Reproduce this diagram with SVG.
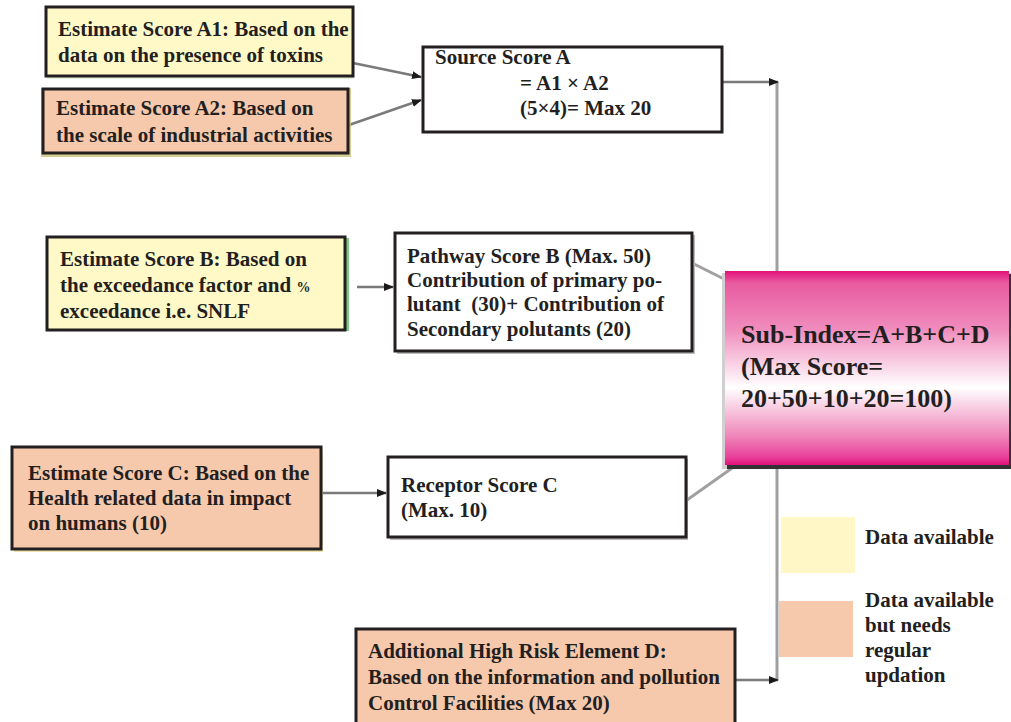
<svg xmlns="http://www.w3.org/2000/svg" width="1011" height="722" viewBox="0 0 1011 722">
<style>
  text { font-family: "Liberation Serif", "Times New Roman", serif; font-weight: bold; font-size: 21px; fill: #231f20; }
  .box { stroke: #231f20; stroke-width: 3; }
  .yellow { fill: #fff9c8; }
  .peach { fill: #f6c8ac; }
  .white { fill: #ffffff; }
  .conn { fill: none; stroke: #7a7a7a; stroke-width: 2.5; }
  .vline { fill: none; stroke: #a0a0a0; stroke-width: 3; }
  .big { font-size: 26px; }
  .leg { font-size: 21px; }
</style>
<defs>
  <marker id="arr" markerUnits="userSpaceOnUse" markerWidth="10" markerHeight="10" refX="9" refY="5" orient="auto">
    <path d="M0,1 L10,5 L0,9 z" fill="#1a1a1a"/>
  </marker>
  <linearGradient id="pinkGrad" x1="0" y1="0" x2="0" y2="1">
    <stop offset="0" stop-color="#e4107c"/>
    <stop offset="0.06" stop-color="#e85a9f"/>
    <stop offset="0.3" stop-color="#f08cbd"/>
    <stop offset="0.6" stop-color="#ffffff"/>
    <stop offset="0.85" stop-color="#ef86b9"/>
    <stop offset="0.96" stop-color="#e8409a"/>
    <stop offset="1" stop-color="#e2107a"/>
  </linearGradient>
</defs>
<rect width="1011" height="722" fill="#ffffff"/>

<g id="connectors">
  <line class="vline" x1="777" y1="82" x2="777" y2="680"/>
  <line class="conn" x1="353" y1="63" x2="421" y2="77" marker-end="url(#arr)"/>
  <line class="conn" x1="349" y1="125" x2="421" y2="100" marker-end="url(#arr)"/>
  <line class="conn" x1="722" y1="82" x2="778" y2="82" marker-end="url(#arr)"/>
  <line class="conn" x1="357" y1="287" x2="393" y2="287" marker-end="url(#arr)"/>
  <line class="vline" x1="692" y1="263" x2="726" y2="280"/>
  <line class="conn" x1="322" y1="493" x2="386" y2="493" marker-end="url(#arr)"/>
  <line class="vline" x1="687" y1="500" x2="735" y2="466"/>
  <line class="conn" x1="736" y1="680" x2="778" y2="680" marker-end="url(#arr)"/>
</g>

<g id="nodeA1">
  <rect x="47" y="9" width="307" height="70" fill="#d8f0d0" opacity="0.8"/>
  <rect class="box yellow" x="46" y="7" width="307" height="69"/>
  <text x="58" y="36">Estimate Score A1: Based on the</text>
  <text x="58" y="62">data on the presence of toxins</text>
</g>

<g id="nodeA2">
  <rect x="41" y="88" width="310" height="69" fill="#c9c27a" opacity="0.8"/>
  <rect class="box peach" x="43" y="89" width="305" height="64"/>
  <text x="56" y="115">Estimate Score A2: Based on</text>
  <text x="56" y="142">the scale of industrial activities</text>
</g>

<g id="nodeSourceA">
  <rect class="box white" x="423" y="47" width="299" height="85"/>
  <text x="435" y="64">Source Score A</text>
  <text x="520" y="90">= A1 × A2</text>
  <text x="520" y="115">(5×4)= Max 20</text>
</g>

<g id="nodeB">
  <rect x="48" y="238" width="301" height="93" fill="#4caf50" opacity="0.7"/>
  <rect class="box yellow" x="47" y="237" width="298" height="93"/>
  <text x="60" y="266">Estimate Score B: Based on</text>
  <text x="60" y="292">the exceedance factor and <tspan font-size="14">%</tspan></text>
  <text x="60" y="318">exceedance i.e. SNLF</text>
</g>

<g id="nodePathwayB">
  <rect x="397" y="235" width="298" height="119" fill="#bbbbbb"/>
  <rect class="box white" x="395" y="233" width="297" height="118"/>
  <text x="407" y="263">Pathway Score B (Max. 50)</text>
  <text x="407" y="287">Contribution of primary po-</text>
  <text x="407" y="311" xml:space="preserve">lutant  (30)+ Contribution of</text>
  <text x="407" y="336">Secondary polutants (20)</text>
</g>

<g id="nodeSubIndex">
  <rect x="722" y="273" width="290" height="196" fill="#d0d0d0"/>
  <rect x="727" y="274" width="285" height="195" fill="#333333"/>
  <rect x="725" y="271" width="284" height="194" fill="url(#pinkGrad)"/>
  <text class="big" x="741" y="343">Sub-Index=A+B+C+D</text>
  <text class="big" x="741" y="375">(Max Score=</text>
  <text class="big" x="741" y="407">20+50+10+20=100)</text>
</g>

<g id="nodeC">
  <rect x="14" y="449" width="309" height="103" fill="#e8dc9a" opacity="0.8"/>
  <rect class="box peach" x="12" y="447" width="309" height="102"/>
  <text x="28" y="480">Estimate Score C: Based on the</text>
  <text x="28" y="505">Health related data in impact</text>
  <text x="28" y="530">on humans (10)</text>
</g>

<g id="nodeReceptorC">
  <rect x="390" y="459" width="298" height="81" fill="#bbbbbb"/>
  <rect class="box white" x="388" y="457" width="298" height="80"/>
  <text x="401" y="492">Receptor Score C</text>
  <text x="401" y="517">(Max. 10)</text>
</g>

<g id="nodeD">
  <rect class="box peach" x="356" y="629" width="379" height="100"/>
  <text x="368" y="658">Additional High Risk Element D:</text>
  <text x="368" y="684">Based on the information and pollution</text>
  <text x="368" y="710">Control Facilities (Max 20)</text>
</g>

<g id="legend">
  <rect x="781" y="517" width="74" height="56" fill="#fff8c6"/>
  <text class="leg" x="865" y="544">Data available</text>
  <rect x="779" y="601" width="74" height="56" fill="#f6c9ad"/>
  <text class="leg" x="865" y="607">Data available</text>
  <text class="leg" x="865" y="632">but needs</text>
  <text class="leg" x="865" y="657">regular</text>
  <text class="leg" x="865" y="682">updation</text>
</g>
</svg>
